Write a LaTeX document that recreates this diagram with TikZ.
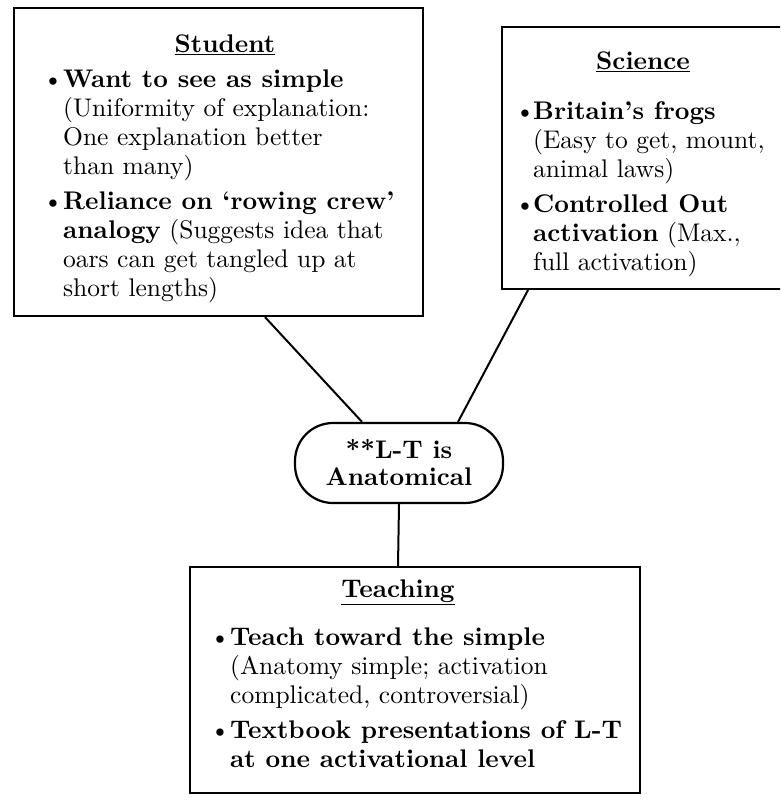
\documentclass[tikz,border=0pt]{standalone}
\usepackage{fontspec}
\setmainfont{lmroman10-regular.otf}[BoldFont=lmroman10-bold.otf, ItalicFont=lmroman10-italic.otf]
\usetikzlibrary{calc}
\newcommand\hd[1]{\underline{\textbf{#1}}}
\newcommand\bul[1][20pt]{\makebox[#1][l]{\textbullet}}
\tikzset{
  box/.style={draw, line width=2.2pt, rectangle, inner sep=0pt},
  oval/.style={draw, line width=2.2pt, rounded corners=38pt, inner sep=0pt, align=center, font=\fontsize{25.5}{27}\selectfont\bfseries},
  hdtext/.style={inner sep=0pt, font=\fontsize{25.5}{29}\selectfont},
  body/.style={inner sep=0pt, anchor=north west, font=\fontsize{25.5}{29}\selectfont},
  link/.style={line width=2pt}
}
\begin{document}
\begin{tikzpicture}[x=1pt,y=-1pt]
\useasboundingbox (0,0) rectangle (780,802);
\begin{scope}
\clip (0,0) rectangle (780,802);
% boxes
\node[box, minimum width=409pt, minimum height=308pt] (student) at (218.5,162) {};
\node[box, minimum width=300pt, minimum height=262pt] (science) at (652,158) {};
\node[box, minimum width=450pt, minimum height=226pt] (teaching) at (415,680) {};
\node[oval, minimum width=208pt, minimum height=80pt] (lt) at (399,463) {**L-T is\\Anatomical};
\end{scope}
% headers
\node[hdtext] (sth) at (225,45) {\hd{Student}};
\node[hdtext] (sch) at (643,62) {\hd{Science}};
\node[hdtext] (teh) at (398,592) {\hd{Teaching}};
% bodies
\node[body] (stb) at (43,67) {\begin{tabular}{@{}l@{}l@{}}
\bul & \textbf{Want to see as simple}\\
 & (Uniformity of explanation:\\
 & One explanation better\\
 & than many)\\[6pt]
\bul & \textbf{Reliance on `rowing crew'}\\
 & \textbf{analogy} (Suggests idea that\\
 & oars can get tangled up at\\
 & short lengths)
\end{tabular}};
\node[body] (scb) at (515,99) {\begin{tabular}{@{}l@{}l@{}}
\bul[18pt] & \textbf{Britain's frogs}\\
 & (Easy to get, mount,\\
 & animal laws)\\[6pt]
\bul[18pt] & \textbf{Controlled Out}\\
 & \textbf{activation} (Max.,\\
 & full activation)
\end{tabular}};
\node[body] (teb) at (210,625) {\begin{tabular}{@{}l@{}l@{}}
\bul & \textbf{Teach toward the simple}\\
 & (Anatomy simple; activation\\
 & complicated, controversial)\\[6pt]
\bul & \textbf{Textbook presentations of L-T}\\
 & \textbf{at one activational level}
\end{tabular}};
% connectors
\draw[link] ([xshift=46.5pt]student.south) -- ([xshift=-37pt]lt.north);
\draw[link] ([xshift=-124pt]science.south) -- ([xshift=59pt]lt.north);
\draw[link] (lt.south) -- ([xshift=-17pt]teaching.north);
\end{tikzpicture}
\end{document}
